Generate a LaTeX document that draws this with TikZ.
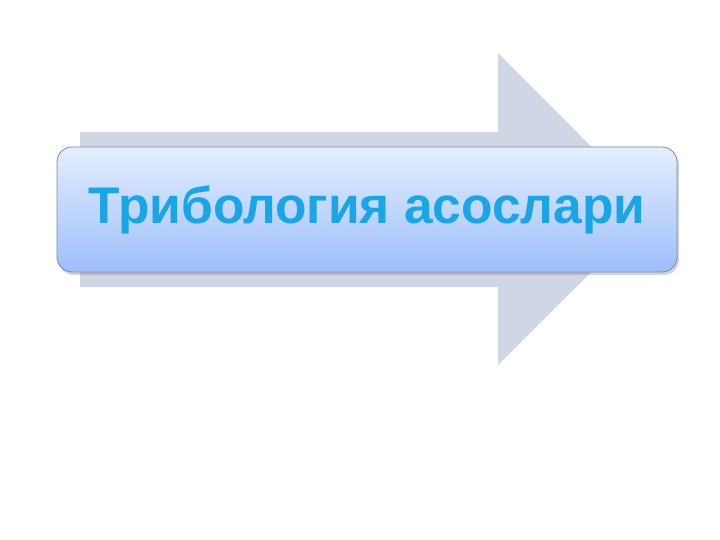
\documentclass[tikz,border=0pt]{standalone}
\usepackage{fontspec}
\setmainfont{Liberation Sans}
\usepackage{tikz}
\usetikzlibrary{shadows}
\definecolor{arrowgray}{RGB}{208,215,228}
\definecolor{boxtop}{RGB}{228,238,253}
\definecolor{boxbottom}{RGB}{158,190,250}
\definecolor{boxline}{RGB}{120,138,170}
\definecolor{titleblue}{RGB}{26,166,230}
\tikzset{
  titlebox/.style={draw=boxline, line width=0.8pt, rounded corners=15pt,
    top color=boxtop, bottom color=boxbottom,
    drop shadow={shadow xshift=2pt, shadow yshift=-3pt, opacity=0.35},
    minimum width=620pt, minimum height=125pt, inner sep=0pt,
    text=titleblue, font=\fontsize{51.5}{58}\selectfont\bfseries}
}
\begin{document}
\begin{tikzpicture}[x=1pt,y=-1pt]
            \useasboundingbox (0,0) rectangle (720,540);
            % big arrow behind
            \fill[arrowgray] (80,132) -- (498,132) -- (498,53) -- (654,209.5)
                -- (498,365) -- (498,287) -- (80,287) -- cycle;
            % title box
            \node[titlebox] (title) at (367,209.5) {Трибология асослари};
        \end{tikzpicture}
\end{document}
